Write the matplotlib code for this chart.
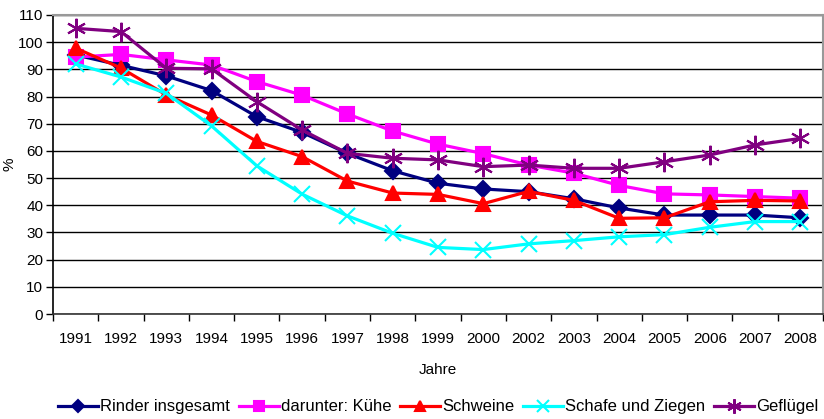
import matplotlib
matplotlib.use("Agg")
import matplotlib.pyplot as plt
import numpy as np

plt.rcParams["font.family"] = ["Liberation Sans", "DejaVu Sans"]

# Jahre (Kategorien)
jahre = ["1991", "1992", "1993", "1994", "1995", "1996", "1997", "1998", "1999",
         "2000", "2002", "2003", "2004", "2005", "2006", "2007", "2008"]

# Werte in %
rinder = [95.3, 91.5, 87.6, 82.2, 72.6, 66.8, 59.1, 52.7, 48.1,
          46.0, 45.0, 42.4, 39.0, 36.4, 36.4, 36.4, 35.4]
kuehe = [94.5, 95.5, 93.5, 91.6, 85.5, 80.5, 73.6, 67.3, 62.5,
         59.0, 54.8, 51.8, 47.3, 44.2, 43.8, 43.2, 42.6]
schweine = [97.8, 90.5, 80.6, 73.2, 63.5, 57.9, 48.9, 44.5, 44.0,
            40.6, 45.1, 41.8, 35.2, 35.4, 41.3, 41.8, 41.6]
schafe = [92.0, 87.2, 81.2, 69.2, 54.5, 44.1, 36.1, 29.7, 24.5,
          23.7, 25.8, 27.0, 28.4, 29.2, 31.9, 34.0, 34.0]
gefluegel = [105.1, 103.9, 90.4, 90.2, 78.1, 67.7, 59.1, 57.3, 56.7,
             54.2, 54.8, 53.6, 53.6, 56.0, 58.5, 62.2, 64.6]

serien = [
    ("Rinder insgesamt", rinder, "#000080", "D", 8),
    ("darunter: Kühe", kuehe, "#ff00ff", "s", 10),
    ("Schweine", schweine, "#ff0000", "^", 10),
    ("Schafe und Ziegen", schafe, "#00ffff", "x", 11),
    ("Geflügel", gefluegel, "#800080", (6, 2, 0), 14),
]

fig = plt.figure(figsize=(8.24, 4.19), dpi=100)
ax = fig.add_axes([53/824, 1 - 314/419, 770/824, 299/419])

x = np.arange(len(jahre))
for name, vals, col, mk, ms in serien:
    ax.plot(x, vals, color=col, linewidth=2.3, marker=mk, markersize=ms,
            markerfacecolor=col, markeredgecolor=col, markeredgewidth=1.5,
            label=name)

ax.set_xlim(-0.5, len(jahre) - 0.5)
ax.set_ylim(0, 110)
ax.set_yticks(np.arange(0, 111, 10))
ax.yaxis.grid(True, color="black", linewidth=1)
ax.set_axisbelow(True)

ax.set_xticks(x)
ax.set_xticklabels(jahre, fontsize=11)
ax.set_xticks(np.arange(-0.5, len(jahre)), minor=True)
ax.tick_params(axis="x", which="major", length=0, pad=13)
ax.tick_params(axis="x", which="minor", length=5, width=1, direction="out")
ax.tick_params(axis="y", length=5, width=1, direction="out", labelsize=11, pad=2)

for s in ["top", "right"]:
    ax.spines[s].set_color("#999999")
    ax.spines[s].set_linewidth(1.5)
ax.spines["left"].set_color("black")
ax.spines["bottom"].set_color("#333333")
ax.spines["left"].set_linewidth(1.2)
ax.spines["bottom"].set_linewidth(1.2)

ax.set_xlabel("Jahre", fontsize=11, labelpad=12)
ax.set_ylabel("%", fontsize=11, labelpad=1)

fig.legend(loc="lower center", bbox_to_anchor=(0.532, -0.025), ncol=5,
           frameon=False, fontsize=12, handlelength=2.4, handletextpad=0.1,
           columnspacing=0.55, markerscale=0.75)

fig.savefig("out.png", dpi=100)
